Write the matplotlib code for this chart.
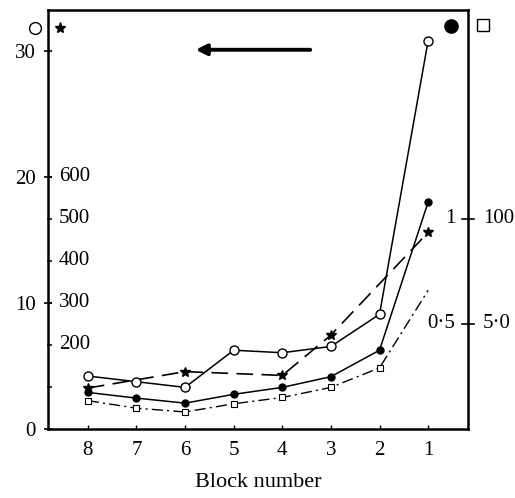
import matplotlib
matplotlib.use("Agg")
import matplotlib.pyplot as plt

plt.rcParams['font.family'] = ['Liberation Serif', 'DejaVu Serif']

# данные
blocks = [8, 7, 6, 5, 4, 3, 2, 1]
open_circ = [4.2, 3.75, 3.3, 6.25, 6.05, 6.55, 9.1, 30.8]
filled_circ = [2.9, 2.45, 2.05, 2.75, 3.3, 4.15, 6.25, 18.0]
star_blocks = [8, 6, 4, 3, 1]
star_vals = [3.25, 4.55, 4.25, 7.45, 15.6]
square_vals = [2.25, 1.65, 1.35, 2.0, 2.5, 3.3, 4.85, 11.0]

left_ticks = [0, 10, 20, 30]
inner_ticks = [100, 200, 300, 400, 500, 600]
inner_labels = ['', '200', '300', '400', '500', '600']
right_ticks = [0.5, 1.0]
right_inner = ['0·5', '1']
right_outer = ['5·0', '100']
inner_scale = 30.0   # 600 -> 20
right_scale = 16.7   # 1 -> 16.7

fs = 15

fig = plt.figure(figsize=(5.15, 4.98), dpi=100)
ax = fig.add_axes([0.0932, 0.1386, 0.8155, 0.8414])

ax.plot(blocks, open_circ, '-', color='black', lw=1.1, marker='o',
        mfc='white', mec='black', ms=6.5, zorder=4)
ax.plot(blocks, filled_circ, '-', color='black', lw=1.1, marker='o',
        mfc='black', mec='black', ms=5, zorder=4)
ax.plot(star_blocks, star_vals, color='black', lw=1.2, dashes=(10, 5),
        marker='*', ms=7, mfc='black', mec='black', zorder=3)
ax.plot(blocks, square_vals, color='black', lw=1.0, dashes=(8, 3, 1.5, 3),
        marker='s', ms=4.5, mfc='white', mec='black', mew=0.8,
        markevery=list(range(7)), zorder=3)

ax.set_xlim(8.82, 0.18)
ax.set_ylim(0, 33.25)

for s in ax.spines.values():
    s.set_linewidth(1.8)

ax.set_xticks(blocks)
ax.set_xticklabels([str(b) for b in blocks])
ax.tick_params(axis='x', direction='in', length=3, width=1, labelsize=fs, pad=9)

ax.set_yticks(left_ticks)
ax.set_yticklabels([str(t) for t in left_ticks])
ax.tick_params(axis='y', direction='inout', length=6, width=1.2, labelsize=fs, pad=6)

# внутренняя шкала слева
for v, lab in zip(inner_ticks, inner_labels):
    y = v / inner_scale
    ax.plot([0, 0.008], [y, y], color='black', lw=1.2,
            transform=ax.get_yaxis_transform(), clip_on=False)
    if lab:
        ax.text(0.026, y, lab, transform=ax.get_yaxis_transform(),
                ha='left', va='center', fontsize=fs)

# правая шкала
for v, li, lo in zip(right_ticks, right_inner, right_outer):
    y = v * right_scale
    ax.plot([0.985, 1.015], [y, y], color='black', lw=1.2,
            transform=ax.get_yaxis_transform(), clip_on=False)
    ax.text(0.97, y, li, transform=ax.get_yaxis_transform(),
            ha='right', va='center', fontsize=fs)
    ax.text(1.035, y, lo, transform=ax.get_yaxis_transform(),
            ha='left', va='center', fontsize=fs, clip_on=False)

ax.set_xlabel('Block number', fontsize=16, labelpad=9)

# стрелка
ax.annotate('', xy=(0.345, 0.905), xytext=(0.631, 0.905),
            xycoords='axes fraction',
            arrowprops=dict(arrowstyle='-|>', color='black', lw=2.8,
                            mutation_scale=16))

# условные обозначения у углов
ax.plot([-0.031], [0.957], 'o', mfc='white', mec='black', ms=8.5,
        transform=ax.transAxes, clip_on=False)
ax.plot([0.029], [0.957], '*', color='black', ms=8,
        transform=ax.transAxes, clip_on=False)
ax.plot([0.96], [0.962], 'o', color='black', ms=9.5,
        transform=ax.transAxes, clip_on=False)
ax.plot([1.036], [0.964], 's', mfc='white', mec='black', ms=9,
        transform=ax.transAxes, clip_on=False)

fig.savefig('out.png', dpi=100)
